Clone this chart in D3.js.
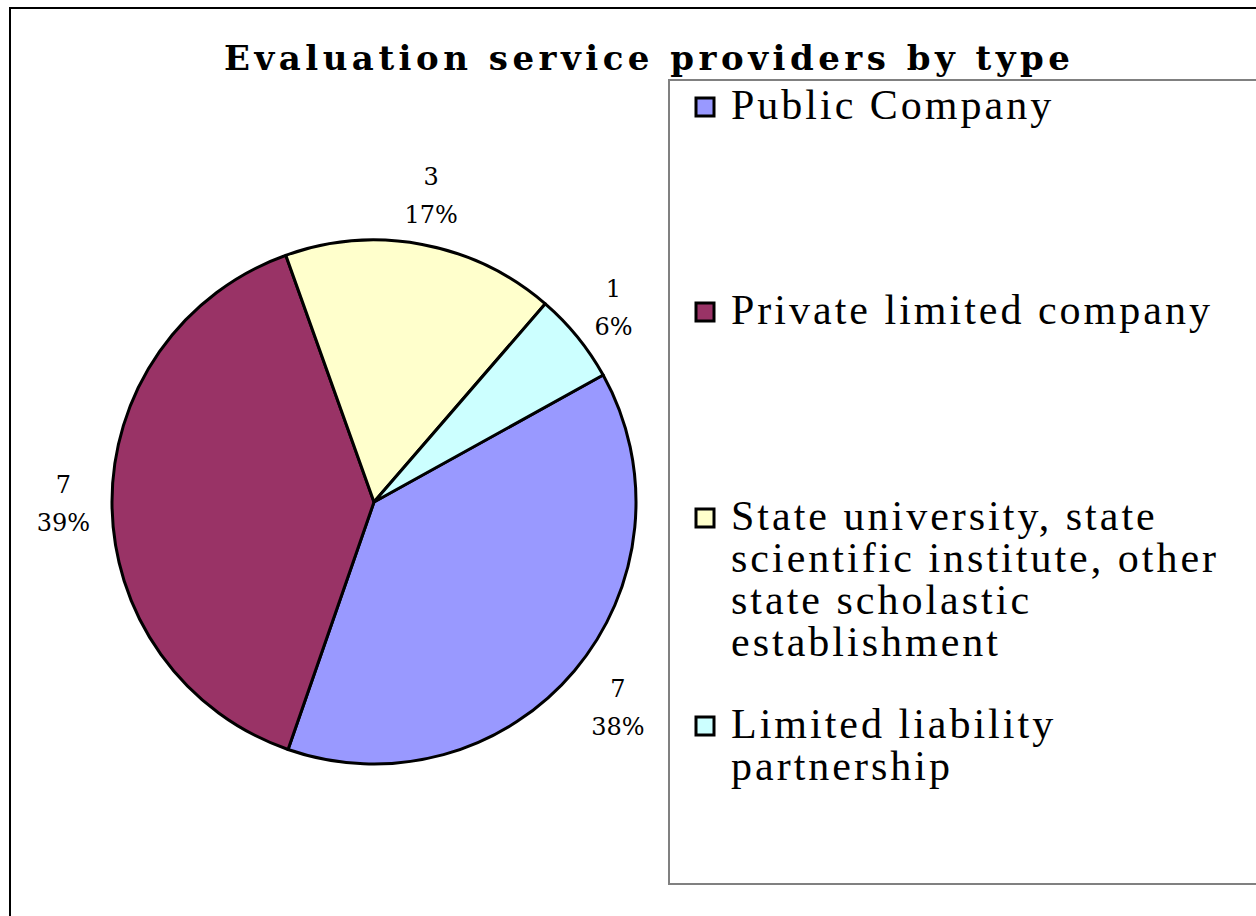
<!DOCTYPE html>
<html>
<head>
<meta charset="utf-8">
<script src="https://cdn.jsdelivr.net/npm/d3@7"></script>
<style>
  body { margin: 0; background: #fff; }
</style>
</head>
<body>
<div id="chart"></div>
<script>
var width = 1256, height = 916;

// data
var categories = ['Public Company', 'Private limited company',
  'State university, state scientific institute, other state scholastic establishment',
  'Limited liability partnership'];
var counts = [6.85, 7, 3, 1];
var colors = ['#9999ff', '#993366', '#ffffcc', '#ccffff'];
var title = 'Evaluation service providers by type';

var cx = 374, cy = 502, radius = 262, gap = 22;

let svg = d3.select('#chart')
  .append('svg')
  .attr('width', width)
  .attr('height', height);

// outer chart frame (runs off the page right and bottom)
svg.append('rect')
  .attr('x', 10).attr('y', 8)
  .attr('width', width + 20).attr('height', height + 20)
  .attr('fill', '#fff')
  .attr('stroke', '#000').attr('stroke-width', 2);

svg.append('text')
  .attr('x', 224).attr('y', 70)
  .attr('font-family', 'DejaVu Serif')
  .attr('font-weight', 'bold')
  .attr('font-size', 34)
  .attr('textLength', 846)
  .attr('lengthAdjust', 'spacing')
  .text(title);

let total = d3.sum(counts);
let a0 = 61 * Math.PI / 180;
let pie = d3.pie().sort(null).startAngle(a0).endAngle(a0 + 2 * Math.PI);
let arcs = pie(counts);
let arc = d3.arc().innerRadius(0).outerRadius(radius);

let g = svg.append('g').attr('transform', `translate(${cx},${cy})`);

g.selectAll('path')
  .data(arcs)
  .enter()
  .append('path')
  .attr('d', arc)
  .attr('fill', (d, i) => colors[i])
  .attr('stroke', '#000')
  .attr('stroke-width', 3)
  .attr('stroke-linejoin', 'round');

let fmtN = d3.format('.0f');
let fmtP = d3.format('.0%');

// labels sit just outside the pie, box edge a fixed gap from the rim
let lab = g.selectAll('text.lab')
  .data(arcs)
  .enter()
  .append('text')
  .attr('class', 'lab')
  .attr('text-anchor', 'middle')
  .attr('font-family', 'DejaVu Serif')
  .attr('font-size', 24);
lab.append('tspan').attr('x', 0).attr('y', 0).text(d => fmtN(d.data));
lab.append('tspan').attr('x', 0).attr('y', 38).text(d => fmtP(d.data / total));

lab.attr('transform', function(d) {
  let bb = this.getBBox();
  let a = (d.startAngle + d.endAngle) / 2;
  let s = Math.sin(a), c = -Math.cos(a);
  let hw = bb.width / 2, hh = 27;
  let ext = Math.min(Math.abs(s) > 1e-6 ? hw / Math.abs(s) : 1e9, Math.abs(c) > 1e-6 ? hh / Math.abs(c) : 1e9);
  let dist = radius + gap + ext;
  return `translate(${s * dist},${c * dist - 10.5})`;
});

// legend
let legend = svg.append('g');
legend.append('rect')
  .attr('x', 669).attr('y', 80)
  .attr('width', 700).attr('height', 804)
  .attr('fill', '#fff')
  .attr('stroke', '#808080').attr('stroke-width', 2);

var legendY = [119, 324, 530, 738];
var maxW = 520, lineH = 42;

categories.forEach((c, i) => {
  let item = legend.append('g').attr('transform', `translate(696,${legendY[i]})`);
  item.append('rect')
    .attr('x', 0).attr('y', -21)
    .attr('width', 18).attr('height', 18)
    .attr('fill', colors[i])
    .attr('stroke', '#000').attr('stroke-width', 3);
  let t = item.append('text')
    .attr('font-family', 'Liberation Serif')
    .attr('font-size', 42)
    .attr('letter-spacing', 3);
  // simple word wrap
  let words = c.split(' '), line = [], n = 0;
  let ts = t.append('tspan').attr('x', 35).attr('y', 0);
  words.forEach(w => {
    line.push(w);
    ts.text(line.join(' '));
    if (ts.node().getComputedTextLength() > maxW && line.length > 1) {
      line.pop();
      ts.text(line.join(' '));
      line = [w];
      n++;
      ts = t.append('tspan').attr('x', 35).attr('y', n * lineH).text(w);
    }
  });
});
</script>
</body>
</html>
